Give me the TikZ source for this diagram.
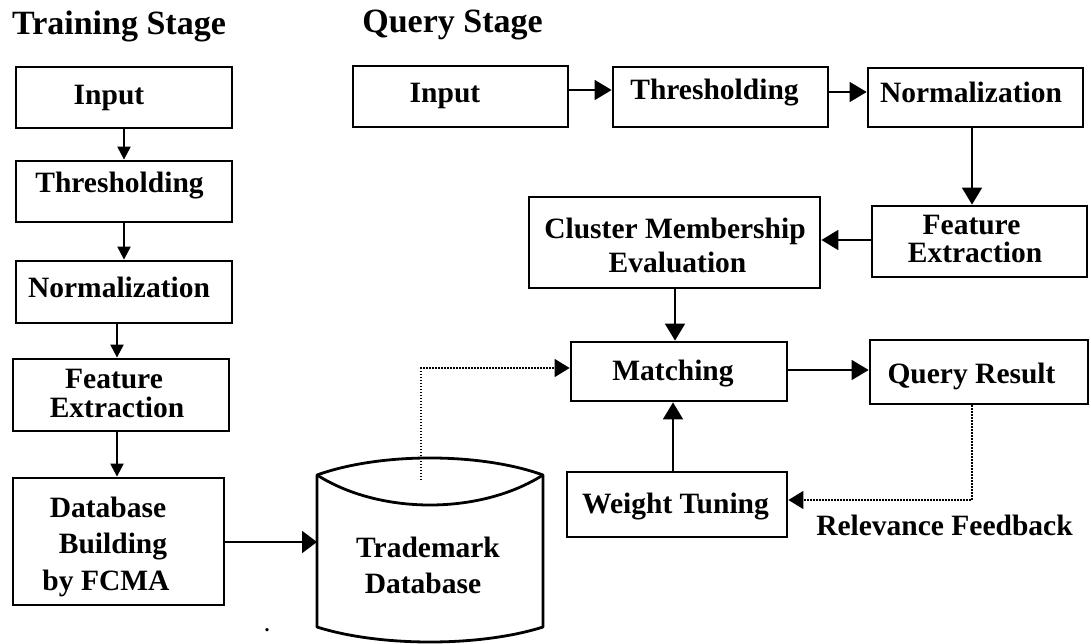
\documentclass[tikz,border=0pt]{standalone}
\usepackage{fontspec}
\setmainfont{Liberation Serif}
\usetikzlibrary{arrows.meta}
\begin{document}
\begin{tikzpicture}[x=1pt,y=-1pt,
 box/.style={draw, line width=2.8pt, rectangle, inner sep=0pt},
 txt/.style={font=\fontsize{29.5}{35}\selectfont\bfseries, inner sep=0pt, anchor=base},
 ttl/.style={font=\fontsize{34}{40}\selectfont\bfseries, inner sep=0pt, anchor=base},
 larr/.style={line width=2.2pt, -{Triangle[length=13pt,width=13pt]}},
 qarr/.style={line width=1.7pt, -{Triangle[length=17pt,width=20pt]}},
 darr/.style={line width=1.5pt, dash pattern=on 1.5pt off 1.5pt, -{Triangle[length=15pt,width=18pt]}},
 cyl/.style={draw, line width=2.8pt, line join=round},
]
\useasboundingbox (0,0) rectangle (1091,644);

% titles
\node[ttl] (ttrain) at (119,35) {Training Stage};
\node[ttl] (tquery) at (452.5,33) {Query Stage};

% training boxes
\node[box, minimum width=216pt, minimum height=61pt] (L1) at (124,97.5) {};
\node[box, minimum width=216pt, minimum height=61pt] (L2) at (124,191.5) {};
\node[box, minimum width=216pt, minimum height=62pt] (L3) at (124,292) {};
\node[box, minimum width=216pt, minimum height=72pt] (L4) at (121,395) {};
\node[box, minimum width=211pt, minimum height=127pt] (L5) at (118.5,541.5) {};
\node[txt] (l1t) at (109,105) {Input};
\node[txt] (l2t) at (119.5,193) {Thresholding};
\node[txt] (l3t) at (119,297) {Normalization};
\node[txt] (l4a) at (114,388.5) {Feature};
\node[txt] (l4b) at (117,417) {Extraction};
\node[txt] (l5a) at (108,517) {Database};
\node[txt] (l5b) at (113,553) {Building};
\node[txt] (l5c) at (106,590) {by FCMA};

% query boxes
\node[box, minimum width=215pt, minimum height=61pt] (Q1) at (460.5,96.5) {};
\node[box, minimum width=215pt, minimum height=60pt] (Q2) at (720.5,97) {};
\node[box, minimum width=215pt, minimum height=59pt] (Q3) at (975.5,97.5) {};
\node[box, minimum width=215pt, minimum height=71pt] (Q4) at (979.5,241.5) {};
\node[box, minimum width=291pt, minimum height=91pt] (Q5) at (674.5,242.5) {};
\node[box, minimum width=216pt, minimum height=59pt] (Q6) at (679,371.5) {};
\node[box, minimum width=218pt, minimum height=64pt] (Q7) at (979,372) {};
\node[box, minimum width=220pt, minimum height=65pt] (Q8) at (677,504.5) {};
\node[txt] (q1t) at (445,103) {Input};
\node[txt] (q2t) at (714.5,100) {Thresholding};
\node[txt] (q3t) at (971,103) {Normalization};
\node[txt] (q4a) at (971.5,234) {Feature};
\node[txt] (q4b) at (975,262.5) {Extraction};
\node[txt] (q5a) at (675,238) {Cluster Membership};
\node[txt] (q5b) at (677.5,272) {Evaluation};
\node[txt] (q6t) at (673,380) {Matching};
\node[txt] (q7t) at (971.5,383) {Query Result};
\node[txt] (q8t) at (675.5,513) {Weight Tuning};
\node[txt] (rf) at (944.5,535) {Relevance Feedback};

% cylinder
\draw[cyl] (317,475) -- (317,627) .. controls (380,647) and (480,647) .. (543,627) -- (543,475)
  .. controls (480,452.3) and (380,452.3) .. (317,475) -- cycle;
\draw[cyl] (317,475) .. controls (380,515) and (480,515) .. (543,475);
\coordinate (cylW) at (317,542);
\coordinate (cylTop) at (421,480);
\node[txt] (cyla) at (428,557) {Trademark};
\node[txt] (cylb) at (423,593) {Database};
\node[txt, font=\fontsize{20}{24}\selectfont\bfseries] (dot) at (267,631) {.};

% training arrows
\draw[larr] (L1.south) -- (L2.north);
\draw[larr] (L2.south) -- (L3.north);
\draw[larr] ([xshift=-7pt]L3.south) -- ([xshift=-4pt]L4.north);
\draw[larr] ([xshift=-4pt]L4.south) -- ([xshift=-1.5pt]L5.north);
\draw[line width=2.2pt, -{Triangle[length=15pt,width=22pt]}] (L5.east |- cylW) -- (cylW);

% query arrows
\draw[qarr] ([yshift=6.5pt]Q1.east) -- ([yshift=7pt]Q2.west);
\draw[qarr] ([yshift=5pt]Q2.east) -- ([yshift=5.5pt]Q3.west);
\draw[qarr] ([xshift=-3.5pt]Q3.south) -- ([xshift=-7.5pt]Q4.north);
\draw[qarr] ([yshift=1.5pt]Q4.west) -- ([yshift=2.5pt]Q5.east);
\draw[qarr] ([xshift=0.5pt]Q5.south) -- ([xshift=-4pt]Q6.north);
\draw[qarr] ([yshift=1.5pt]Q6.east) -- ([yshift=2pt]Q7.west);
\draw[qarr] ([xshift=-4pt]Q8.north) -- ([xshift=-6pt]Q6.south);

% dotted connectors
\draw[darr] (cylTop) |- ([yshift=3.5pt]Q6.west);
\draw[darr] ([xshift=-7pt]Q7.south) |- ([yshift=4.5pt]Q8.east);
\end{tikzpicture}
\end{document}
